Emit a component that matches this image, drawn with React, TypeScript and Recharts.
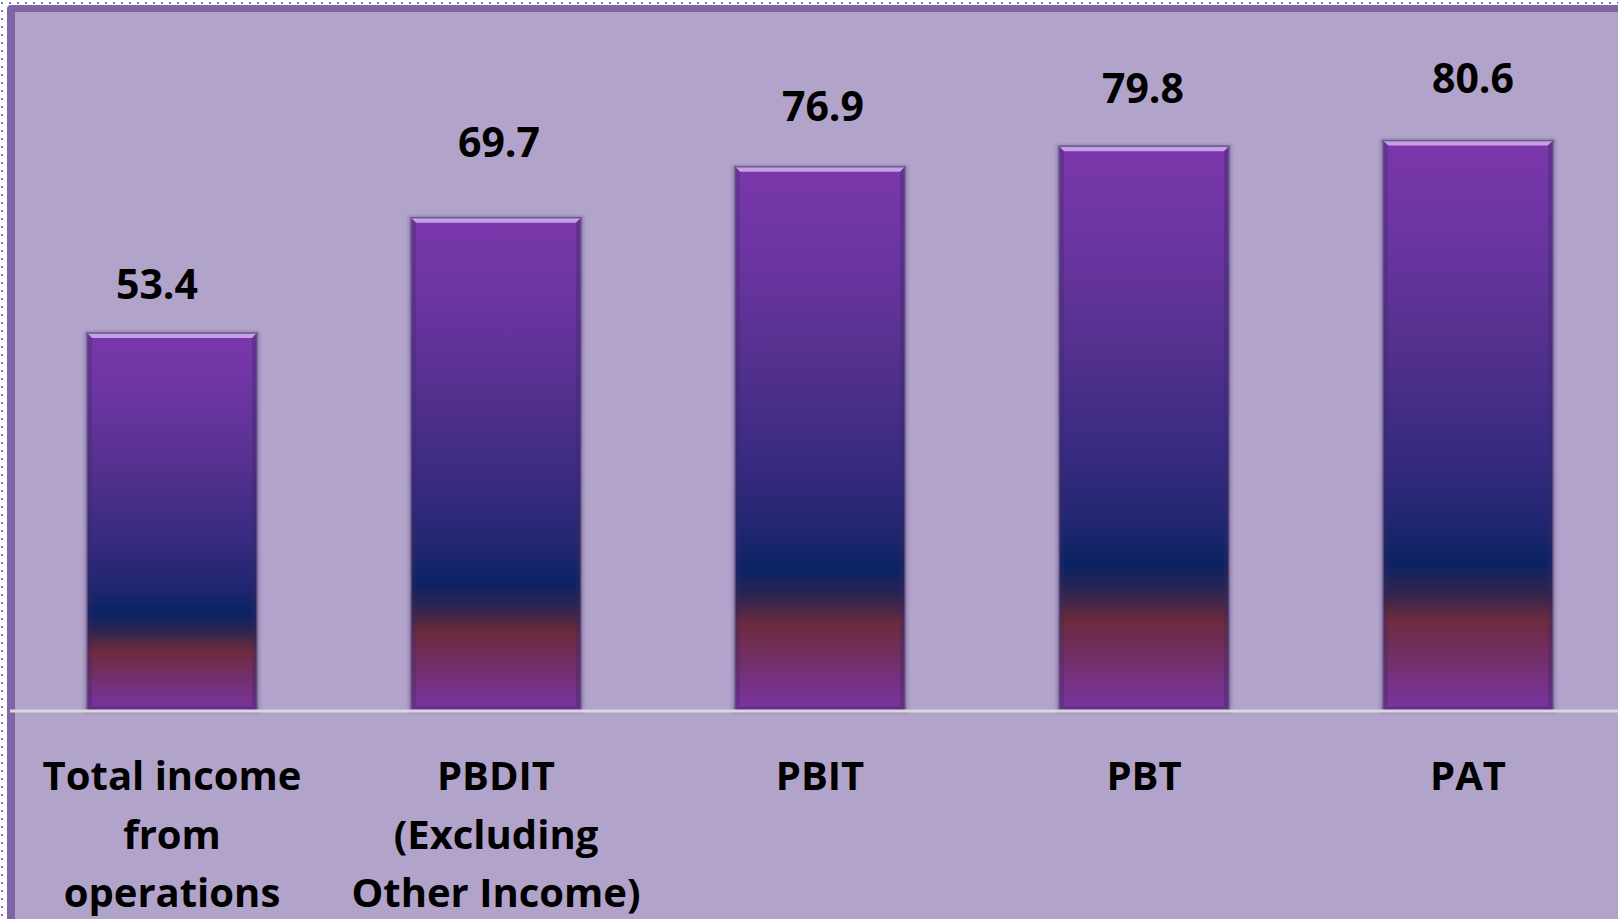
import { Bar, BarChart, LabelList, XAxis, YAxis } from 'recharts';

const categories = ['Total income from operations', 'PBDIT (Excluding Other Income)', 'PBIT', 'PBT', 'PAT'];
const values = [53.4, 69.7, 76.9, 79.8, 80.6];
const tickLines = [
  ['Total income', 'from', 'operations'],
  ['PBDIT', '(Excluding', 'Other Income)'],
  ['PBIT'],
  ['PBT'],
  ['PAT'],
];

const data = categories.map((name, i) => ({ name, value: values[i] }));

const font = "'Open Sans', sans-serif";

// labels in the original were nudged by hand, so each one sits a little differently above its bar
const labelGap = [34, 61, 46, 43, 48];
const labelShift = [-15, 3, 3, -1, 5];

function BevelBar(props: any) {
  const { x, y, width: w, height: h } = props;
  if (!w || !h) return null;
  const b = 5;
  return (
    <g>
      <rect x={x - 3} y={y - 2} width={w + 6} height={h + 4} fill="#5e4a86" opacity={0.3} filter="url(#soft)" />
      <rect x={x} y={y} width={w} height={h} fill="url(#barFill)" />
      <polygon points={`${x},${y} ${x + w},${y} ${x + w - b},${y + b} ${x + b},${y + b}`} fill="#d2b2f2" opacity={0.85} />
      <polygon points={`${x},${y} ${x + b},${y + b} ${x + b},${y + h - b} ${x},${y + h}`} fill="#3a2860" opacity={0.3} />
      <polygon points={`${x + w},${y} ${x + w - b},${y + b} ${x + w - b},${y + h - b} ${x + w},${y + h}`} fill="#3a2860" opacity={0.35} />
      <polygon points={`${x},${y + h} ${x + b},${y + h - b} ${x + w - b},${y + h - b} ${x + w},${y + h}`} fill="#3a2860" opacity={0.3} />
      <rect x={x} y={y} width={w} height={h} fill="none" stroke="#6a5a8a" strokeWidth={1.5} />
    </g>
  );
}

function ValueLabel(props: any) {
  const { x, y, width, value, index } = props;
  return (
    <text
      x={x + width / 2 + (labelShift[index] ?? 0)}
      y={y - (labelGap[index] ?? 32)}
      textAnchor="middle"
      fontSize={41}
      fontWeight={700}
      fontFamily={font}
      fill="#000"
    >
      {value}
    </text>
  );
}

function CategoryTick(props: any) {
  const { x, y, payload } = props;
  const idx = categories.indexOf(payload.value);
  const lines = tickLines[idx] ?? [payload.value];
  return (
    <text x={x} y={y} textAnchor="middle" fontSize={40} fontWeight={700} fontFamily={font} fill="#000">
      {lines.map((l, i) => (
        <tspan key={i} x={x} dy={i === 0 ? 79 : 58.5}>
          {l}
        </tspan>
      ))}
    </text>
  );
}

export default function App() {
  return (
    <div style={{ position: 'relative', width: 1618, height: 919, overflow: 'hidden', background: '#fff' }}>
      <style>{'body{margin:0;overflow:hidden}'}</style>
      <div
        style={{
          position: 'absolute',
          inset: 0,
          backgroundImage: 'radial-gradient(#8a70b0 1px, transparent 1.3px)',
          backgroundSize: '8px 8px',
          backgroundPosition: '-2px -1px',
        }}
      />
      <div style={{ position: 'absolute', left: 7, top: 5, right: -20, bottom: -20, background: '#7f64a6', borderTopLeftRadius: 4 }} />
      <div style={{ position: 'absolute', left: 15, top: 12, right: -20, bottom: -20, background: '#b1a3c9' }} />
      <div style={{ position: 'absolute', left: 0, top: 0 }}>
        <BarChart width={1640} height={919} data={data} margin={{ top: 74, right: 10, bottom: 0, left: 10 }} barSize={170}>
          <defs>
            <linearGradient id="barFill" x1="0" y1="0" x2="0" y2="1">
              <stop offset="0%" stopColor="#7b37ab" />
              <stop offset="15%" stopColor="#6d35a3" />
              <stop offset="35%" stopColor="#55318f" />
              <stop offset="55%" stopColor="#372a80" />
              <stop offset="67%" stopColor="#212670" />
              <stop offset="74%" stopColor="#0a2262" />
              <stop offset="79%" stopColor="#2e2450" />
              <stop offset="84%" stopColor="#6c2b3d" />
              <stop offset="91%" stopColor="#73306a" />
              <stop offset="100%" stopColor="#7a34a4" />
            </linearGradient>
            <filter id="soft" x="-10%" y="-10%" width="120%" height="120%">
              <feGaussianBlur stdDeviation="1.5" />
            </filter>
          </defs>
          <YAxis hide domain={[0, 90]} />
          <XAxis
            dataKey="name"
            height={208}
            interval={0}
            tickLine={false}
            tickSize={0}
            tickMargin={0}
            axisLine={{ stroke: '#d9d9d9', strokeWidth: 3 }}
            tick={<CategoryTick />}
          />
          <Bar dataKey="value" shape={<BevelBar />} isAnimationActive={false}>
            <LabelList dataKey="value" content={<ValueLabel />} />
          </Bar>
        </BarChart>
      </div>
    </div>
  );
}
